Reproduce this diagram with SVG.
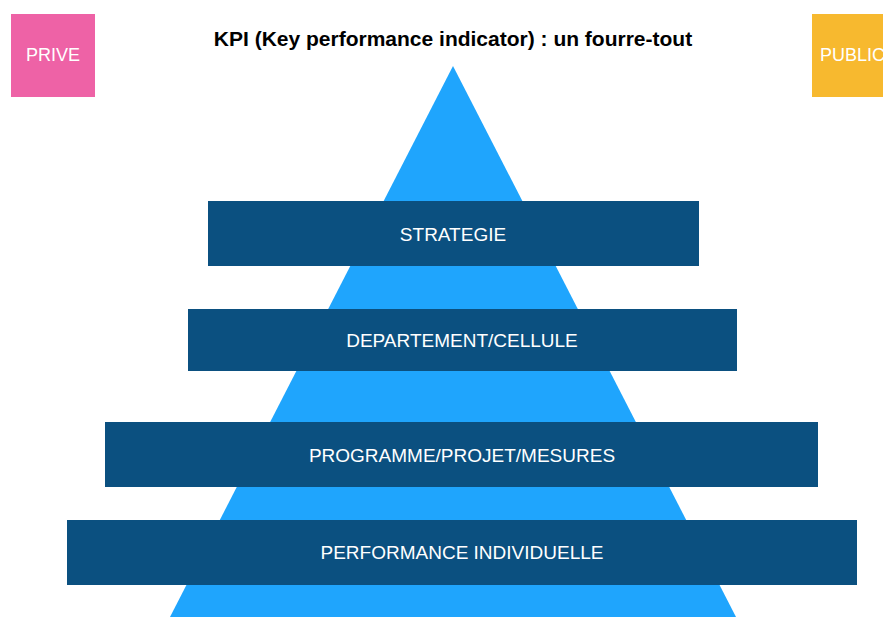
<svg xmlns="http://www.w3.org/2000/svg" width="883" height="617" viewBox="0 0 883 617">
  <style>
    .lbl { font-family: "Liberation Sans", Arial, Helvetica, sans-serif; font-size: 19px; fill: #ffffff; text-anchor: middle; }
    .tag { font-family: "Liberation Sans", Arial, Helvetica, sans-serif; font-size: 18px; fill: #ffffff; }
    .title { font-family: "Liberation Sans", Arial, Helvetica, sans-serif; font-size: 21px; font-weight: bold; fill: #000000; text-anchor: middle; }
    .bar { fill: #0b5080; }
  </style>
  <rect width="883" height="617" fill="#ffffff"/>

  <text class="title" x="453" y="46">KPI (Key performance indicator) : un fourre-tout</text>

  <g id="prive">
    <rect x="11" y="14" width="84" height="83" fill="#ee62a6"/>
    <text class="tag" x="53" y="61" text-anchor="middle">PRIVE</text>
  </g>
  <g id="public">
    <!-- box runs past the right edge of the canvas -->
    <rect x="812" y="14" width="82" height="83" fill="#f7b92f"/>
    <text class="tag" x="820" y="61">PUBLIC</text>
  </g>

  <!-- pyramid background -->
  <polygon id="pyramid" points="453,66 736,617 170,617" fill="#1fa5fd"/>

  <g id="strategie">
    <rect class="bar" x="208" y="201" width="491" height="65"/>
    <text class="lbl" x="453" y="241">STRATEGIE</text>
  </g>
  <g id="departement">
    <rect class="bar" x="188" y="309" width="549" height="62"/>
    <text class="lbl" x="462" y="347">DEPARTEMENT/CELLULE</text>
  </g>
  <g id="programme">
    <rect class="bar" x="105" y="422" width="713" height="65"/>
    <text class="lbl" x="462" y="462">PROGRAMME/PROJET/MESURES</text>
  </g>
  <g id="performance">
    <rect class="bar" x="67" y="520" width="790" height="65"/>
    <text class="lbl" x="462" y="559">PERFORMANCE INDIVIDUELLE</text>
  </g>
</svg>
